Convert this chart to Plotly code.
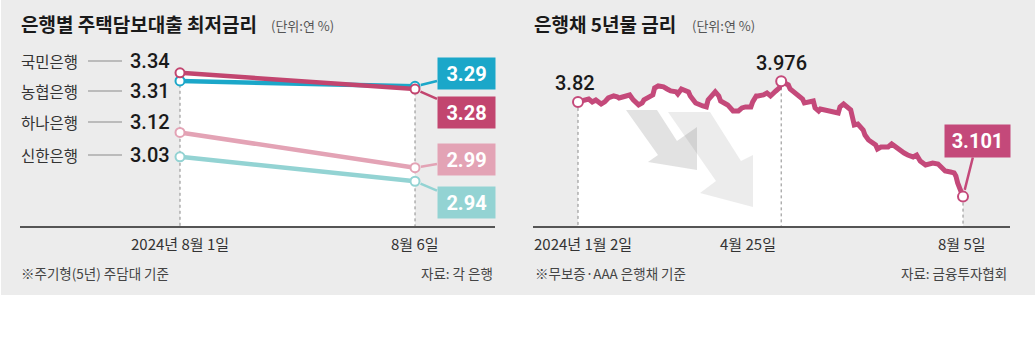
import plotly.graph_objects as go
import pandas as pd

W, H = 1036, 351

# ---------------- data ----------------
banks = ["국민은행", "농협은행", "하나은행", "신한은행"]
left_dates = ["2024년 8월 1일", "8월 6일"]
rate_aug1 = [3.34, 3.31, 3.12, 3.03]
rate_aug6 = [3.28, 3.29, 2.99, 2.94]
bank_colors = ["#c2456f", "#1ba7c9", "#e3a3b5", "#93d3d3"]

bond_dates = [
    "2024-01-02", "2024-01-05", "2024-01-08", "2024-01-10", "2024-01-12", "2024-01-15", "2024-01-17",
    "2024-01-19", "2024-01-22", "2024-01-24", "2024-01-25", "2024-01-29", "2024-01-31",
    "2024-02-02", "2024-02-05", "2024-02-07", "2024-02-08", "2024-02-13", "2024-02-14", "2024-02-16",
    "2024-02-19", "2024-02-21", "2024-02-23", "2024-02-26", "2024-02-27", "2024-02-29",
    "2024-03-04", "2024-03-05", "2024-03-07", "2024-03-08", "2024-03-12", "2024-03-14", "2024-03-15",
    "2024-03-19", "2024-03-21", "2024-03-22", "2024-03-26", "2024-03-28", "2024-03-29",
    "2024-04-01", "2024-04-03", "2024-04-05", "2024-04-08", "2024-04-09", "2024-04-11", "2024-04-12",
    "2024-04-15", "2024-04-17", "2024-04-19", "2024-04-22", "2024-04-24", "2024-04-25",
    "2024-04-29", "2024-04-30", "2024-05-03", "2024-05-07", "2024-05-08", "2024-05-10", "2024-05-13",
    "2024-05-14", "2024-05-16", "2024-05-17", "2024-05-20", "2024-05-23", "2024-05-27", "2024-05-28",
    "2024-05-30",
    "2024-06-03", "2024-06-04", "2024-06-05", "2024-06-07", "2024-06-10", "2024-06-11", "2024-06-13",
    "2024-06-17", "2024-06-18", "2024-06-20", "2024-06-24", "2024-06-26", "2024-06-28",
    "2024-07-01", "2024-07-03", "2024-07-05", "2024-07-08", "2024-07-10", "2024-07-12", "2024-07-15",
    "2024-07-17", "2024-07-19", "2024-07-22", "2024-07-24", "2024-07-26", "2024-07-29", "2024-07-31",
    "2024-08-01", "2024-08-02", "2024-08-05",
]
bond_rates = [
    3.820, 3.835, 3.842, 3.820, 3.835, 3.804, 3.820, 3.850, 3.865, 3.858, 3.850, 3.865, 3.873,
    3.835, 3.797, 3.812, 3.835, 3.873, 3.926, 3.941, 3.934, 3.918, 3.903, 3.896, 3.880, 3.918,
    3.896, 3.865, 3.835, 3.812, 3.789, 3.782, 3.835, 3.896, 3.865, 3.827, 3.797, 3.774, 3.751,
    3.751, 3.774, 3.782, 3.782, 3.820, 3.865, 3.865, 3.873, 3.888, 3.865, 3.903, 3.926, 3.976,
    3.949, 3.918, 3.888, 3.842, 3.812, 3.820, 3.827, 3.774, 3.751, 3.766, 3.759, 3.751, 3.736,
    3.782, 3.804,
    3.759, 3.698, 3.645, 3.652, 3.607, 3.569, 3.531, 3.493, 3.463, 3.478, 3.478, 3.501, 3.478,
    3.455, 3.432, 3.417, 3.402, 3.417, 3.372, 3.341, 3.349, 3.356, 3.349, 3.326, 3.296, 3.288,
    3.281,
    3.258, 3.205, 3.101,
]
bond_marks = ["2024-01-02", "2024-04-25", "2024-08-05"]
right_ticks = ["2024년 1월 2일", "4월 25일", "8월 5일"]
bond_color = "#c4497a"

# ---------------- layout helpers ----------------
KFONT = "Noto Sans CJK KR, sans-serif"
NFONT = "Roboto, Noto Sans, sans-serif"
BG = "#ececec"


def fx(p):
    return p / W


def fy(p):
    return 1 - p / H


PLOT_TOP, PLOT_BOT = 40, 226
L_YMIN, L_YMAX = 2.775, 3.461
R_YMIN, R_YMAX = 2.878, 4.290


def left_py(v):
    return PLOT_TOP + (L_YMAX - v) / (L_YMAX - L_YMIN) * (PLOT_BOT - PLOT_TOP)


def right_py(v):
    return PLOT_TOP + (R_YMAX - v) / (R_YMAX - R_YMIN) * (PLOT_BOT - PLOT_TOP)


# left x-range (category index) so that the two dates sit at 180px and 415px
LX0, LX1 = 20, 495
lp0, lp1 = 180, 415
span = (LX1 - LX0) / (lp1 - lp0)
l_r0 = -(lp0 - LX0) / (lp1 - lp0)
l_r1 = l_r0 + span

# right date range: first mark at 578px, last at 963px
RX0, RX1 = 533, 1010
d0 = pd.Timestamp(bond_dates[0])
d1 = pd.Timestamp(bond_dates[-1])
px_per_day = (963 - 578) / ((d1 - d0).days)
r_start = d0 - pd.Timedelta(days=(578 - RX0) / px_per_day)
r_end = d1 + pd.Timedelta(days=(RX1 - 963) / px_per_day)

fig = go.Figure()

# ---- left panel ----
for i in [0, 1]:
    fig.add_trace(go.Scatter(x=left_dates, y=[rate_aug1[i], rate_aug6[i]], mode="none",
                             fill="tozeroy", fillcolor="white", xaxis="x", yaxis="y",
                             hoverinfo="skip"))
for j, d in enumerate(left_dates):
    vals = rate_aug1 if j == 0 else rate_aug6
    fig.add_trace(go.Scatter(x=[d, d], y=[max(vals), L_YMIN], mode="lines",
                             line=dict(color="#8a8a8a", width=1, dash="dot"),
                             xaxis="x", yaxis="y", hoverinfo="skip"))
for i in [3, 2, 1, 0]:
    fig.add_trace(go.Scatter(x=left_dates, y=[rate_aug1[i], rate_aug6[i]], mode="lines+markers",
                             line=dict(color=bank_colors[i], width=4.5),
                             marker=dict(symbol="circle", size=9, color="white",
                                         line=dict(color=bank_colors[i], width=2)),
                             xaxis="x", yaxis="y", name=banks[i]))

# ---- right panel ----
fig.add_trace(go.Scatter(x=bond_dates, y=bond_rates, mode="none", fill="tozeroy",
                         fillcolor="white", xaxis="x2", yaxis="y2", hoverinfo="skip"))
mark_vals = [bond_rates[bond_dates.index(d)] for d in bond_marks]
for d, v in zip(bond_marks, mark_vals):
    fig.add_trace(go.Scatter(x=[d, d], y=[v, R_YMIN], mode="lines",
                             line=dict(color="#8a8a8a", width=1, dash="dot"),
                             xaxis="x2", yaxis="y2", hoverinfo="skip"))
fig.add_trace(go.Scatter(x=bond_dates, y=bond_rates, mode="lines",
                         line=dict(color=bond_color, width=5),
                         xaxis="x2", yaxis="y2", name="은행채 5년물"))
fig.add_trace(go.Scatter(x=bond_marks, y=mark_vals, mode="markers",
                         marker=dict(symbol="circle", size=10, color="white",
                                     line=dict(color=bond_color, width=2)),
                         xaxis="x2", yaxis="y2"))

# ---------------- shapes ----------------
shapes = [dict(type="rect", xref="paper", yref="paper", x0=fx(1), x1=fx(1035), y0=fy(295), y1=fy(0),
               fillcolor=BG, line=dict(width=0), layer="below")]


def poly(pts):
    return "M " + " L ".join(f"{fx(x):.5f},{fy(y):.5f}" for x, y in pts) + " Z"


arrow1 = [(626, 110), (657, 110), (677, 141), (697, 127), (697, 170), (648, 162), (658, 155)]
arrow2 = [(668, 112), (710, 112), (741, 161), (753, 155), (753, 207), (700, 193), (716, 181)]
shapes.append(dict(type="path", xref="paper", yref="paper", path=poly(arrow1),
                   fillcolor="rgba(110,110,110,0.2)", line=dict(width=0), layer="above"))
shapes.append(dict(type="path", xref="paper", yref="paper", path=poly(arrow2),
                   fillcolor="rgba(110,110,110,0.13)", line=dict(width=0), layer="above"))

label_y = [61, 91, 122, 155]
for yy in label_y:
    shapes.append(dict(type="line", xref="paper", yref="paper", x0=fx(88), x1=fx(122),
                       y0=fy(yy), y1=fy(yy), line=dict(color="#8a8a8a", width=1)))

# ---------------- annotations ----------------
ann = []


def text(x, y, s, size, color="#333", anchor="left", family=KFONT, weight="normal"):
    ann.append(dict(x=fx(x), y=fy(y), xref="paper", yref="paper", text=s, showarrow=False,
                    xanchor=anchor, yanchor="middle",
                    font=dict(family=family, size=size, color=color, weight=weight)))


text(19, 23, "은행별 주택담보대출 최저금리", 19, "#1a1a1a", weight="bold")
text(269, 25, "(단위:연 %)", 13, "#555")
text(532, 23, "은행채 5년물 금리", 19, "#1a1a1a", weight="bold")
text(690, 25, "(단위:연 %)", 13, "#555")

for i, b in enumerate(banks):
    text(19, label_y[i], b, 15.5, "#333")
    text(150, label_y[i], f"{rate_aug1[i]:.2f}", 20, "#1a1a1a", anchor="center", family=NFONT,
         weight=500)

# right-side value boxes on the left panel
box_y = [112, 74, 159, 203]
for i in range(4):
    v = rate_aug6[i]
    ann.append(dict(x=left_dates[1], y=v, xref="x", yref="y", text=f"<b>{v:.2f}</b>",
                    showarrow=True, arrowhead=0, arrowwidth=2.5, arrowcolor=bank_colors[i],
                    ax=466 - lp1, ay=box_y[i] - left_py(v), standoff=6,
                    bgcolor=bank_colors[i], width=53, height=27, borderpad=2,
                    font=dict(family=NFONT, size=20, color="white")))

# tick labels
text(lp0, 243, left_dates[0], 15, "#333", anchor="center")
text(lp1, 243, left_dates[1], 15, "#333", anchor="center")
text(532, 243, right_ticks[0], 15, "#333", anchor="left")
text(778, 243, right_ticks[1], 15, "#333", anchor="right")
text(962, 243, right_ticks[2], 15, "#333", anchor="center")

# notes
text(19, 273, "※주기형(5년) 주담대 기준", 13.5, "#444")
text(495, 273, "자료: 각 은행", 13.5, "#444", anchor="right")
text(533, 273, "※무보증·AAA 은행채 기준", 13.5, "#444")
text(1009, 273, "자료: 금융투자협회", 13.5, "#444", anchor="right")

# right panel value labels
ann.append(dict(x=bond_marks[0], y=mark_vals[0], xref="x2", yref="y2", text=f"{mark_vals[0]:g}",
                showarrow=False, xshift=-3, yshift=19,
                font=dict(family=NFONT, size=20, color="#1a1a1a", weight=500)))
ann.append(dict(x=bond_marks[1], y=mark_vals[1], xref="x2", yref="y2", text=f"{mark_vals[1]:g}",
                showarrow=False, yshift=18,
                font=dict(family=NFONT, size=20, color="#1a1a1a", weight=500)))
ann.append(dict(x=bond_marks[2], y=mark_vals[2], xref="x2", yref="y2", text=f"<b>{mark_vals[2]:g}</b>",
                showarrow=True, arrowhead=0, arrowwidth=2.5, arrowcolor=bond_color,
                ax=977 - 963, ay=141 - right_py(mark_vals[2]), standoff=7,
                bgcolor=bond_color, width=61, height=28, borderpad=2,
                font=dict(family=NFONT, size=20, color="white")))

axis_common = dict(showgrid=False, zeroline=False, ticks="", showticklabels=False,
                   showline=True, linecolor="#555", linewidth=1.5, fixedrange=True)

fig.update_layout(
    width=W, height=H, autosize=False,
    margin=dict(l=0, r=0, t=0, b=0),
    paper_bgcolor="white", plot_bgcolor="rgba(0,0,0,0)",
    showlegend=False,
    xaxis=dict(domain=[fx(LX0), fx(LX1)], type="category", range=[l_r0, l_r1], anchor="y",
               **axis_common),
    yaxis=dict(domain=[fy(PLOT_BOT), fy(PLOT_TOP)], range=[L_YMIN, L_YMAX], visible=False,
               anchor="x", fixedrange=True),
    xaxis2=dict(domain=[fx(RX0), fx(RX1)], type="date", range=[r_start, r_end], anchor="y2",
                **axis_common),
    yaxis2=dict(domain=[fy(PLOT_BOT), fy(PLOT_TOP)], range=[R_YMIN, R_YMAX], visible=False,
                anchor="x2", fixedrange=True),
    shapes=shapes,
    annotations=ann,
)

fig.write_html("out.html")
